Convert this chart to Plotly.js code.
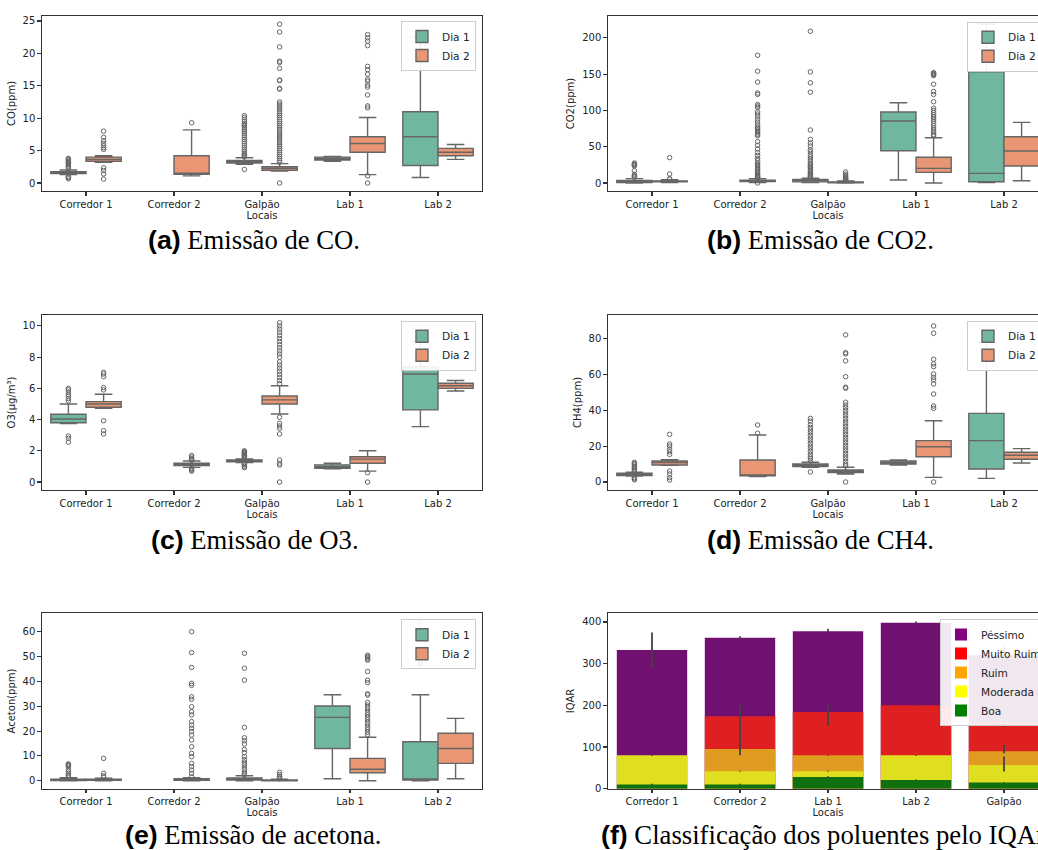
<!DOCTYPE html>
<html><head><meta charset="utf-8">
<script src="https://cdn.plot.ly/plotly-3.0.1.min.js"></script>
<style>html,body{margin:0;padding:0;overflow:hidden;background:#fff;}#chart{width:1060px;height:850px;}</style>
</head><body><div id="chart"></div>
<script>
// ---------------- DATA ----------------
const LOCAIS = ['Corredor 1', 'Corredor 2', 'Galpão', 'Lab 1', 'Lab 2'];
// box stats per location: [lowerfence, q1, median, q3, upperfence]; null = no data

// (a) CO (ppm)
const co_dia1 = [[1.3,1.45,1.6,1.75,2.0], null, [2.9,3.1,3.3,3.5,3.9], [3.35,3.55,3.75,4.0,4.1], [0.85,2.7,7.15,11.0,22.5]];
const co_dia1_out = [[3.8,3.7,3.55,3.4,3.3,3.15,3.0,2.8,2.6,2.45,2.25,1.0,0.85,0.65], [],
  [10.4,10.1,9.8,9.5,9.2,9.0,8.8,8.5,8.2,7.9,7.6,7.3,7.0,6.7,6.4,6.1,5.8,5.5,5.2,4.9,4.6,4.4,4.2,4.05,2.1], [], []];
const co_dia2 = [[3.2,3.35,3.65,4.0,4.2], [1.1,1.35,1.45,4.2,8.2], [1.85,1.95,2.25,2.5,3.0], [1.3,4.75,6.1,7.15,10.1], [3.65,4.2,4.75,5.35,5.95]];
const co_dia2_out = [[8.0,7.05,6.5,6.1,5.75,5.45,5.2,2.35,1.95,1.4,0.6], [9.3],
  [24.5,23.3,21.0,18.8,18.6,17.7,15.9,15.8,14.6,14.5,12.5,12.2,11.9,11.6,11.3,11.0,10.7,10.4,10.1,9.8,9.5,9.2,8.9,8.6,8.3,8.0,7.7,7.4,7.1,6.8,6.5,6.2,5.9,5.6,5.3,5.0,4.7,4.4,4.1,3.8,3.5,3.2,0.0],
  [22.9,22.4,21.9,21.2,18.0,17.5,16.8,16.0,15.7,15.1,14.8,13.6,11.9,11.6,1.1,0.0], []];

// (b) CO2 (ppm)
const co2_dia1 = [[0,0.8,1.8,3.5,6], null, [0.5,1.5,3.7,5,6.5], [4.1,44.5,85.3,97.7,110.5], [0.5,1.8,13.3,153.2,219]];
const co2_dia1_out = [[27.5,26.5,25.5,24.5,23.5,17,12,10,9,8], [],
  [209,153,138,125,73,60,55,51,46,43,39,36,33,30,27,25,23,21,19,17,15,13,11.5,10,9,8], [], []];
const co2_dia2 = [[0.5,1.5,2.3,3,4.5], [0.5,2,3,4,6], [0,0.3,0.8,1.5,3], [0,14.7,20.2,35.4,62.4], [3.2,23.4,44,63.7,83.5]];
const co2_dia2_out = [[35,12.5,6,5.2],
  [176,154,139,124,122,108,106,104,98,95,92,88,84,80,77,75,73,71,69,67,65,57,52,47,42,38,34,31,28,26,24,22,20,18,16,14,12,10.5,9.5,8.5,7.5,7,0],
  [15,12,10,8.5,7.5,6.5,5.5,4.5,4,3.5],
  [152,151,150,149,148,136,126,122,112,103,100,97,94,91,88,85,82,79,76,73,70,67,65], []];

// (c) O3 (µg/m³)
const o3_dia1 = [[3.74,3.8,4.04,4.34,5.0], null, [1.25,1.3,1.36,1.41,1.48], [0.85,0.88,0.98,1.1,1.2], [3.55,4.62,6.92,7.39,9.0]];
const o3_dia1_out = [[6.0,5.9,5.75,5.6,5.5,5.35,5.2,2.95,2.8,2.55], [],
  [2.0,1.95,1.9,1.85,1.8,1.75,1.7,1.65,1.6,1.55,1.2,1.15,1.1,1.0,0.92], [], []];
const o3_dia2 = [[4.72,4.79,5.0,5.15,5.62], [0.94,1.05,1.12,1.2,1.35], [4.36,5.0,5.26,5.51,6.17], [0.7,1.2,1.47,1.62,2.0], [5.83,6.0,6.17,6.33,6.5]];
const o3_dia2_out = [[7.03,6.92,6.75,6.05,5.9,3.93,3.29,3.08], [1.7,1.6,1.5,1.45,1.4,0.88,0.82,0.76,0.7],
  [10.2,10.0,9.8,9.6,9.4,9.2,9.0,8.8,8.6,8.4,8.2,8.0,7.7,7.5,7.3,7.1,6.9,6.7,6.5,6.3,4.15,3.76,3.59,3.44,3.08,1.41,1.2,1.09,0.0],
  [0.6,0.0], []];

// (d) CH4 (ppm)
const ch4_dia1 = [[3.35,3.54,4.1,4.86,5.4], null, [8.2,8.55,9.3,10.05,11], [9.5,10.05,10.8,11.7,12.3], [2.0,7.26,23.1,38.3,78]];
const ch4_dia1_out = [[11,10.3,9.6,8.8,8.0,7.3,6.6,6.0,2.5,1.8,1.2], [],
  [35.5,34,32,30.5,29,27.5,26,24.5,23,21.5,20,18.5,17,15.5,14,13,12,5.6], [], []];
const ch4_dia2 = [[9.3,9.5,10.8,11.7,12.5], [3.0,3.4,3.9,12.3,26.2], [4.5,5.2,6.0,6.7,8.2], [2.6,14.1,19.7,23.1,34.2], [10.6,12.7,14.9,16.6,18.6]];
const ch4_dia2_out = [[26.6,21.2,20.1,18.2,16.9,15.4,6.1,4.5,2.4,1.1], [31.8,27.2],
  [82.1,72.2,71.5,67.6,58.8,52.9,52.3,44.5,43,41.5,40,38.5,37,35.5,34,32.5,31,29.5,28,26.5,25,23.5,22,20.5,19,17.5,16,14.5,13,11.5,10,9,0],
  [87.1,83.0,68.5,65.9,64.4,60.3,58.4,57,54.7,49.1,42.4,41.1,0], []];

// (e) Acetona (ppm)
const ac_dia1 = [[0,0.1,0.3,0.6,1.2], null, [0,0.3,0.6,1.1,2.0], [0.8,13.0,25.5,30.1,34.6], [0,0.28,0.7,15.7,34.6]];
const ac_dia1_out = [[6.8,6.5,6.2,5.8,4.5,3.8,3.0,2.3,1.8], [],
  [51.3,45.3,40.5,21.5,17.3,16.1,14.8,12.6,11.3,9.7,8.5,7.5,6.5,5.5,4.5,3.5,2.8,2.3], [], [64,53,49.9,47.3,46.6]];
const ac_dia2 = [[0,0.2,0.4,0.6,1.0], [0,0.2,0.5,0.8,1.2], [0,0,0.1,0.3,0.6], [0,3.2,4.6,9.0,17.5], [0.8,7.0,13.0,19.1,25.1]];
const ac_dia2_out = [[9.0,3.0,2.0,1.4],
  [60.0,51.6,45.6,39.2,38.4,33.8,32.8,29.8,27.8,26.5,23.8,22.4,21.1,19.8,18.4,16.4,13.7,11.0,9.7,7.0,5.7,4.3,3.0,1.6],
  [3.4,2.5,1.8,1.2,0.8],
  [50.5,50,49.5,49,48.5,44,40.5,39.5,35,34.5,31.5,30.5,29.5,28.5,27.5,26.5,25.5,24.5,23.5,22.5,21.5,20.5,19.5,18.5], []];

// (f) IQAR
const LOCAIS_F = ['Corredor 1', 'Corredor 2', 'Lab 1', 'Lab 2', 'Galpão'];
const CLASSES = ['Péssimo', 'Muito Ruim', 'Ruim', 'Moderada', 'Boa'];
const iqar_pessimo   = [333, 362, 378, 398, 320];
const iqar_pessimo_lo = [287, 357, 374, 395, 300];
const iqar_pessimo_hi = [375, 366, 384, 401, 340];
const iqar_muitoruim = [null, 174, 184, 200, 160];
const iqar_muitoruim_lo = [null, 80, 151, 199, 149];
const iqar_muitoruim_hi = [null, 201, 201, 201, 190];
const iqar_ruim      = [null, 95, 80, null, 90];
const iqar_ruim_lo   = [null, 93, 79, null, 85];
const iqar_ruim_hi   = [null, 97, 81, null, 105];
const iqar_moderada  = [80, 42, 42, 80, 57];
const iqar_moderada_lo = [79, 41, 41, 79, 41];
const iqar_moderada_hi = [81, 43, 43, 81, 77];
const iqar_boa       = [10, 10, 28, 21, 15];
const iqar_boa_lo    = [9, 9, 25, 20, 14];
const iqar_boa_hi    = [12, 12, 30, 22, 16];

// ---------------- LAYOUT / STYLE ----------------
const W = 1060, H = 850;
const px = v => v / W, py = v => 1 - v / H;
const TXT = '#222', LINE = '#333';
const C_DIA1 = '#71b6a0', C_DIA2 = '#e99675', BOXLINE = '#666';
const BAR_COLORS = ['#701070', '#df2020', '#df9c20', '#dfdf20', '#107010'];
const LEG_COLORS = ['#800080', '#ff0000', '#ffa500', '#ffff00', '#008000'];

const GEOM = [
  {l: 42, r: 482, t: 16, b: 191, yr: [-1.23, 25.77], dt: 5, yt: 'CO(ppm)', cats: LOCAIS},
  {l: 608, r: 1048, t: 16, b: 191, yr: [-11, 230], dt: 50, yt: 'CO2(ppm)', cats: LOCAIS},
  {l: 42, r: 482, t: 315, b: 490, yr: [-0.51, 10.7], dt: 2, yt: 'O3(μg/m³)', cats: LOCAIS},
  {l: 608, r: 1048, t: 315, b: 490, yr: [-4.47, 93.2], dt: 20, yt: 'CH4(ppm)', cats: LOCAIS},
  {l: 42, r: 482, t: 613.3, b: 788.7, yr: [-3.2, 67.4], dt: 10, yt: 'Aceton(ppm)', cats: LOCAIS},
  {l: 608, r: 1048, t: 613.3, b: 788.7, yr: [0, 420.8], dt: 100, yt: 'IQAR', cats: LOCAIS_F}
];
const LEGENDS = [
  {x: 476, xa: 'right', y: 21},
  {x: 967, xa: 'left', y: 21.7},
  {x: 476, xa: 'right', y: 320.7},
  {x: 967, xa: 'left', y: 320.7},
  {x: 476, xa: 'right', y: 619.3},
  {x: 940, xa: 'left', y: 619}
];
const CAPTIONS = [
  {x: 254, y: 240, xa: 'center', lab: '(a)', txt: 'Emissão de CO.'},
  {x: 820.8, y: 240, xa: 'center', lab: '(b)', txt: 'Emissão de CO2.'},
  {x: 254.5, y: 540, xa: 'center', lab: '(c)', txt: 'Emissão de O3.'},
  {x: 820.8, y: 540, xa: 'center', lab: '(d)', txt: 'Emissão de CH4.'},
  {x: 253.3, y: 834.5, xa: 'center', lab: '(e)', txt: 'Emissão de acetona.'},
  {x: 599.3, y: 834.5, xa: 'left', lab: '(f)', txt: 'Classificação dos poluentes pelo IQAr.'}
];

const sfx = k => (k === 1 ? '' : String(k));
const layout = {
  width: W, height: H,
  margin: {l: 0, r: 0, t: 0, b: 0},
  paper_bgcolor: '#fff', plot_bgcolor: '#fff',
  showlegend: true, hovermode: false,
  boxmode: 'group', boxgap: 0.2, boxgroupgap: 0,
  barmode: 'overlay', bargap: 0.2,
  font: {family: 'DejaVu Sans', size: 10, color: TXT},
  annotations: []
};
GEOM.forEach((g, i) => {
  const k = i + 1;
  layout['xaxis' + sfx(k)] = {
    domain: [px(g.l), px(g.r)], anchor: 'y' + sfx(k),
    type: 'category', categoryorder: 'array', categoryarray: g.cats, range: [-0.5, 4.5],
    showline: true, mirror: true, linecolor: LINE, linewidth: 1.25,
    ticks: 'outside', ticklen: 3.5, tickwidth: 1.1, tickcolor: LINE,
    tickfont: {family: 'DejaVu Sans', size: 10, color: TXT},
    showgrid: false, zeroline: false, fixedrange: true,
    title: {text: 'Locais', font: {family: 'DejaVu Sans', size: 10, color: TXT}, standoff: 2}
  };
  layout['yaxis' + sfx(k)] = {
    domain: [py(g.b), py(g.t)], anchor: 'x' + sfx(k),
    range: g.yr, dtick: g.dt, tick0: 0,
    showline: true, mirror: true, linecolor: LINE, linewidth: 1.25,
    ticks: 'outside', ticklen: 3.5, tickwidth: 1.1, tickcolor: LINE,
    tickfont: {family: 'DejaVu Sans', size: 10, color: TXT},
    showgrid: false, zeroline: false, fixedrange: true,
    title: {text: g.yt, font: {family: 'DejaVu Sans', size: 10, color: TXT}, standoff: 5}
  };
  const L = LEGENDS[i];
  layout['legend' + sfx(k)] = {
    x: px(L.x), xanchor: L.xa, y: py(L.y), yanchor: 'top',
    bgcolor: 'rgba(255,255,255,0.9)', bordercolor: '#cccccc', borderwidth: 1,
    font: {family: 'DejaVu Sans', size: 10.6, color: TXT},
    itemwidth: 30, tracegroupgap: 0, itemclick: false, itemdoubleclick: false
  };
  const c = CAPTIONS[i];
  layout.annotations.push({
    xref: 'paper', yref: 'paper', x: px(c.x), y: py(c.y), xanchor: c.xa, yanchor: 'middle',
    showarrow: false,
    text: '<span style="font-family:Liberation Sans,Arial,sans-serif;font-weight:bold">' + c.lab + '</span> ' + c.txt,
    font: {family: 'Liberation Serif, Times New Roman, serif', size: 26.7, color: '#000'}
  });
});

function boxTrace(stats, outl, name, color, k) {
  const x = [], q1 = [], median = [], q3 = [], lowerfence = [], upperfence = [], y = [];
  stats.forEach((s, i) => {
    if (!s) return;
    x.push(LOCAIS[i]); lowerfence.push(s[0]); q1.push(s[1]); median.push(s[2]);
    q3.push(s[3]); upperfence.push(s[4]); y.push(outl[i]);
  });
  return {
    type: 'box', name, x, y, q1, median, q3, lowerfence, upperfence,
    orientation: 'v', boxpoints: 'outliers', jitter: 0, pointpos: 0, whiskerwidth: 0.5,
    fillcolor: color, line: {color: BOXLINE, width: 1.4},
    marker: {symbol: 'circle-open', size: 4.5, color: BOXLINE, line: {width: 1, color: BOXLINE}},
    offsetgroup: name,
    xaxis: 'x' + sfx(k), yaxis: 'y' + sfx(k), legend: 'legend' + sfx(k), hoverinfo: 'skip'
  };
}

const data = [];
const BOXSETS = [
  [co_dia1, co_dia1_out, co_dia2, co_dia2_out],
  [co2_dia1, co2_dia1_out, co2_dia2, co2_dia2_out],
  [o3_dia1, o3_dia1_out, o3_dia2, o3_dia2_out],
  [ch4_dia1, ch4_dia1_out, ch4_dia2, ch4_dia2_out],
  [ac_dia1, ac_dia1_out, ac_dia2, ac_dia2_out]
];
BOXSETS.forEach((s, i) => {
  data.push(boxTrace(s[0], s[1], 'Dia 1', C_DIA1, i + 1));
  data.push(boxTrace(s[2], s[3], 'Dia 2', C_DIA2, i + 1));
});

// (f) overlaid bars, then error bars on top, then legend entries
const IQ_VALS = [iqar_pessimo, iqar_muitoruim, iqar_ruim, iqar_moderada, iqar_boa];
const IQ_LO = [iqar_pessimo_lo, iqar_muitoruim_lo, iqar_ruim_lo, iqar_moderada_lo, iqar_boa_lo];
const IQ_HI = [iqar_pessimo_hi, iqar_muitoruim_hi, iqar_ruim_hi, iqar_moderada_hi, iqar_boa_hi];
IQ_VALS.forEach((v, j) => {
  data.push({type: 'bar', x: LOCAIS_F, y: v, marker: {color: BAR_COLORS[j], line: {width: 0}},
    xaxis: 'x6', yaxis: 'y6', showlegend: false, hoverinfo: 'skip', name: CLASSES[j]});
});
IQ_VALS.forEach((v, j) => {
  data.push({type: 'scatter', mode: 'markers', x: LOCAIS_F, y: v,
    marker: {size: 2, color: 'rgba(0,0,0,0)'},
    error_y: {type: 'data', symmetric: false,
      array: v.map((d, i) => (d == null ? null : IQ_HI[j][i] - d)),
      arrayminus: v.map((d, i) => (d == null ? null : d - IQ_LO[j][i])),
      color: '#424242', thickness: 1.8, width: 0},
    xaxis: 'x6', yaxis: 'y6', showlegend: false, hoverinfo: 'skip'});
});
CLASSES.forEach((c, j) => {
  data.push({type: 'bar', x: [LOCAIS_F[0]], y: [null], name: c, marker: {color: LEG_COLORS[j]},
    xaxis: 'x6', yaxis: 'y6', legend: 'legend6', showlegend: true, hoverinfo: 'skip'});
});

Plotly.newPlot('chart', data, layout, {staticPlot: true, displayModeBar: false});
</script>
</body></html>
